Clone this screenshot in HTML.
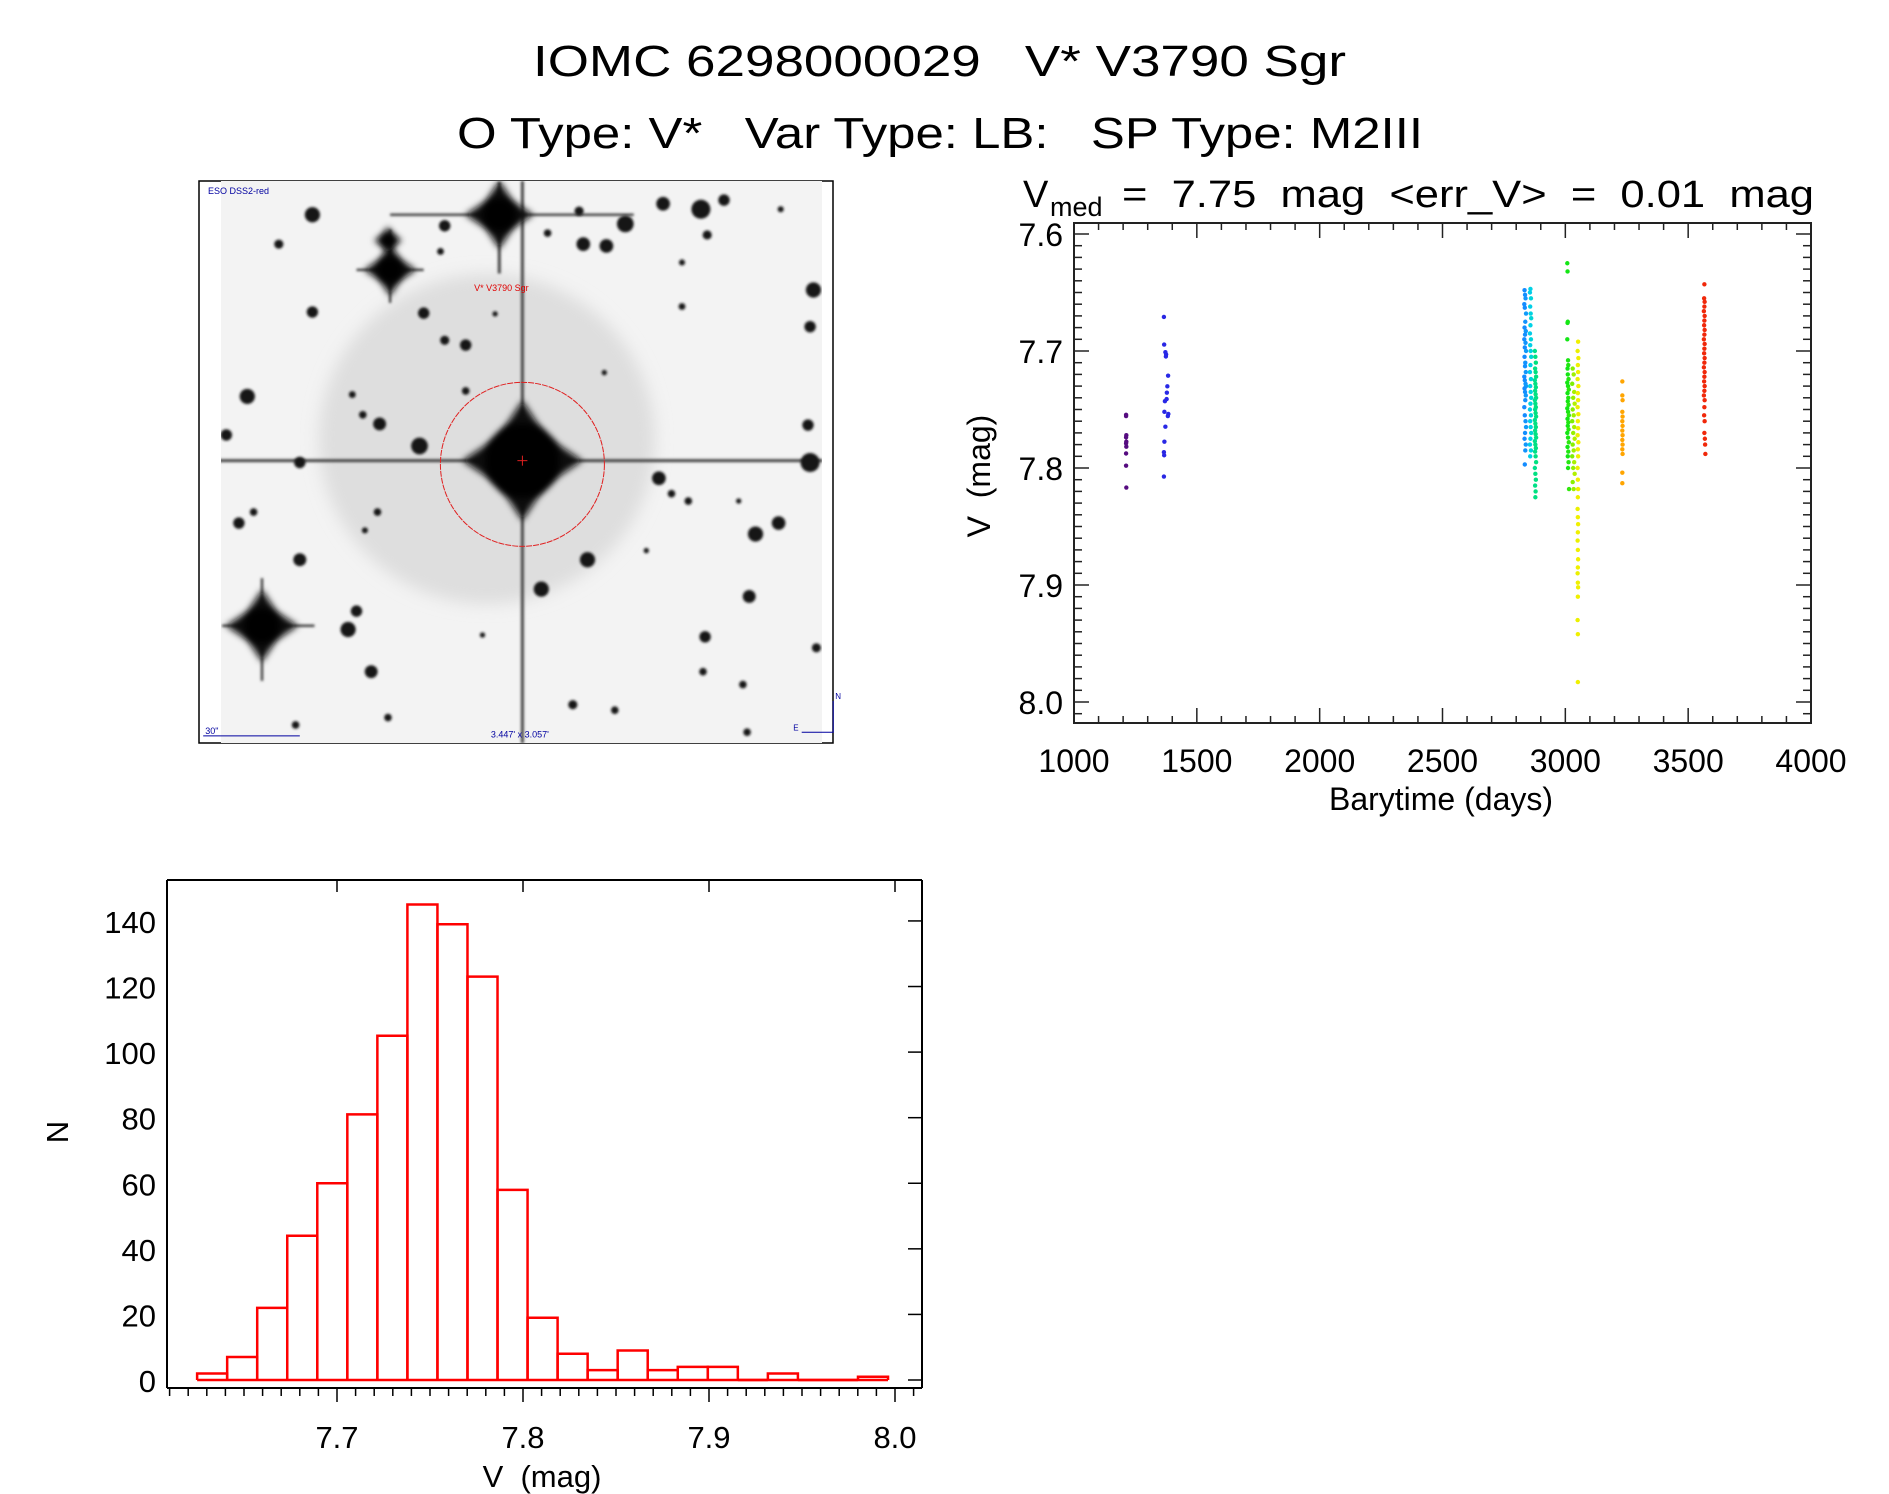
<!DOCTYPE html>
<html><head><meta charset="utf-8"><style>
html,body{margin:0;padding:0;background:#fff;}
svg{display:block;font-family:"Liberation Sans",sans-serif;}
text{white-space:pre;}
</style></head><body>
<svg id="root" width="1889" height="1494" viewBox="0 0 1889 1494" xmlns="http://www.w3.org/2000/svg" xml:space="preserve">
<defs>
<filter id="blur2" x="-50%" y="-50%" width="200%" height="200%"><feGaussianBlur stdDeviation="3.5"/></filter>
<filter id="blur6" x="-50%" y="-50%" width="200%" height="200%"><feGaussianBlur stdDeviation="8"/></filter>
<filter id="blur1" x="-50%" y="-50%" width="200%" height="200%"><feGaussianBlur stdDeviation="1.3"/></filter>
<filter id="blurLine" filterUnits="userSpaceOnUse" x="150" y="150" width="750" height="650"><feGaussianBlur stdDeviation="1.2"/></filter>
<clipPath id="imgclip"><rect x="221" y="181" width="601" height="562"/></clipPath>
</defs>
<text x="533" y="76" font-size="44" textLength="813" lengthAdjust="spacingAndGlyphs">IOMC 6298000029   V* V3790 Sgr</text>
<text x="457" y="148" font-size="44" textLength="966" lengthAdjust="spacingAndGlyphs">O Type: V*   Var Type: LB:   SP Type: M2III</text>

<g id="sky"></g>
<g id="scatter"></g>
<g id="hist"></g>
</svg>
<script>
// ---------------- light-curve data ----------------
const purpleT=[1212,1212,1213,1212,1213,1212,1213,1212,1212,1213];
const purpleM=[7.7545,7.7556,7.772,7.7738,7.7775,7.779,7.7818,7.7876,7.798,7.8167];
const blueT=[1366,1367,1372,1375,1374,1383,1380,1378,1377,1370,1368,1384,1382,1372,1368,1366,1367,1366];
const blueM=[7.6709,7.6945,7.701,7.7029,7.7047,7.7211,7.7302,7.7356,7.7411,7.7429,7.752,7.7538,7.7556,7.7647,7.7775,7.7865,7.7891,7.8073];
const grpAT=[2834,2836,2838,2833,2835,2840,2837,2834,2839,2836,2833,2838,2835,2840,2834,2837,2836,2839,2833,2835,2838,2840,2834,2836,2839,2837,2833,2835,2838,2840,2836,2834,2839,2837,2835];
const grpAM=[7.648,7.652,7.655,7.660,7.663,7.668,7.675,7.680,7.683,7.686,7.690,7.693,7.697,7.700,7.705,7.710,7.713,7.718,7.722,7.725,7.728,7.730,7.732,7.735,7.738,7.742,7.748,7.755,7.760,7.765,7.770,7.775,7.780,7.785,7.797];
const grpBT=[2858,2856,2860,2857,2859,2861,2858,2856,2860,2857,2859,2861,2858,2856,2860,2857,2859,2861,2858,2856,2860,2857,2859,2861,2858,2856,2860,2857];
const grpBM=[7.647,7.650,7.655,7.662,7.668,7.672,7.678,7.685,7.690,7.695,7.700,7.705,7.712,7.718,7.724,7.730,7.735,7.740,7.745,7.750,7.755,7.760,7.765,7.770,7.775,7.780,7.785,7.790];
const grpCT=[2876,2878,2880,2877,2879,2881,2876,2878,2880,2877,2879,2881,2876,2878,2880,2877,2879,2881,2876,2878,2880,2877,2879,2881,2876,2878,2880,2877,2879,2881,2876,2878,2880,2877,2879,2878];
const grpCM=[7.700,7.705,7.710,7.715,7.718,7.722,7.725,7.728,7.731,7.734,7.737,7.740,7.742,7.745,7.748,7.750,7.753,7.756,7.759,7.762,7.765,7.768,7.771,7.774,7.777,7.780,7.783,7.786,7.790,7.795,7.800,7.805,7.810,7.815,7.820,7.825];
const grpDT=[3008,3009,3010,3009,3008,3011,3012,3009,3010,3013,3008,3011,3014,3009,3012,3010,3013,3008,3011,3014,3009,3012,3010,3013,3008,3011,3014,3009,3012,3010,3013,3011,3015];
const grpDM=[7.625,7.632,7.675,7.676,7.690,7.708,7.712,7.715,7.720,7.724,7.727,7.730,7.733,7.736,7.740,7.743,7.746,7.749,7.752,7.755,7.758,7.761,7.764,7.767,7.770,7.774,7.778,7.782,7.786,7.790,7.795,7.800,7.818];
const grpET=[3030,3034,3028,3036,3032,3038,3030,3034,3028,3036,3032,3038,3030,3034,3028,3036,3032,3038,3030,3034];
const grpEM=[7.715,7.720,7.728,7.735,7.740,7.745,7.750,7.755,7.760,7.765,7.770,7.775,7.780,7.785,7.790,7.795,7.800,7.805,7.812,7.818];
const grpFT=[3052,3050,3053,3051,3052,3050,3053,3051,3052,3050,3053,3051,3052,3050,3053,3051,3052,3050,3051,3052,3051,3050,3051,3052,3051,3050,3051,3052,3051,3050,3051,3052,3051,3050,3051,3051];
const grpFM=[7.692,7.700,7.706,7.712,7.718,7.724,7.730,7.736,7.742,7.748,7.754,7.760,7.766,7.772,7.778,7.784,7.790,7.800,7.810,7.818,7.825,7.835,7.842,7.848,7.855,7.862,7.870,7.878,7.885,7.890,7.898,7.902,7.910,7.930,7.942,7.983];
const grpGT=[3232,3232,3233,3232,3233,3232,3233,3232,3233,3232,3233,3232,3233,3232,3232];
const grpGM=[7.726,7.738,7.742,7.752,7.756,7.760,7.764,7.768,7.772,7.776,7.780,7.784,7.788,7.804,7.813];
const grpHT=[3566,3565,3567,3566,3564,3567,3566,3565,3567,3566,3564,3567,3566,3565,3567,3566,3564,3567,3566,3565,3567,3566,3564,3567,3566,3565,3567,3566,3568,3569,3570];
const grpHM=[7.643,7.655,7.658,7.662,7.666,7.670,7.674,7.678,7.682,7.686,7.690,7.694,7.698,7.702,7.706,7.710,7.714,7.718,7.722,7.726,7.730,7.734,7.738,7.742,7.748,7.755,7.760,7.770,7.775,7.780,7.788];
const xTickLabels=["1000","1500","2000","2500","3000","3500","4000"];
const yTickLabels=["7.6","7.7","7.8","7.9","8.0"];

// ---------------- histogram data ----------------
const histBinStart=7.6248;
const histBinWidth=0.01615;
const histCounts=[2,7,22,44,60,81,105,145,139,123,58,19,8,3,9,3,4,4,0,2,0,0,1];
const histXTickLabels=["7.7","7.8","7.9","8.0"];
const histYTickLabels=["0","20","40","60","80","100","120","140"];

const NS="http://www.w3.org/2000/svg";
function mk(tag,attrs,parent){const e=document.createElementNS(NS,tag);for(const k in attrs)e.setAttribute(k,attrs[k]);parent.appendChild(e);return e;}

// ---------------- sky image ----------------
(function(){
const g=document.getElementById('sky');
const fx=zx=>199+(zx-15)*0.42, fy=zy=>181+(zy-18)*0.367;
let r=mk('rect',{x:199,y:181,width:634,height:562,fill:'#fff',stroke:'#000','stroke-width':1.5},g);


const c=mk('g',{'clip-path':'url(#imgclip)'},g);
mk('rect',{x:221,y:181,width:601,height:562,fill:'#f3f3f3'},c);
mk('ellipse',{cx:487,cy:439,rx:168,ry:165,fill:'#dedede',filter:'url(#blur6)'},c);
const sl=mk('g',{filter:'url(#blurLine)'},c);
const sp=[[0,780,1500,780,3],[785,18,785,1550,3],[470,110,1050,110,2.5],[730,20,730,270,3],[390,260,550,260,2.5],[470,150,470,350,2.5],[70,1230,290,1230,2.5],[165,1100,165,1380,2.5]];
sp.forEach(s=>mk('line',{x1:fx(s[0]),y1:fy(s[1]),x2:fx(s[2]),y2:fy(s[3]),stroke:'#444','stroke-width':s[4]},sl));
const big=[[785,780,150],[730,110,85],[470,260,65],[465,180,35],[165,1230,90]];
big.forEach((b,i)=>{const x=fx(b[0]),y=fy(b[1]),s=b[2]*0.4,q=s*0.4;
 mk('polygon',{points:`${x},${y-s} ${x+q},${y-q} ${x+s},${y} ${x+q},${y+q} ${x},${y+s} ${x-q},${y+q} ${x-s},${y} ${x-q},${y-q}`,fill:'#111',filter:'url(#blur2)'},c);
 mk('circle',{cx:x,cy:y,r:s*(i===0?0.62:0.5),fill:'#000',filter:'url(#blur2)'},c);});
const small=[[285,110,20],[205,190,12],[1120,80,18],[1210,95,25],[1265,70,15],[1030,135,22],[930,190,18],[985,195,18],[920,100,12],[600,140,15],[845,160,10],[1225,165,12],[1478,315,20],[1470,415,15],[130,605,20],[285,375,15],[550,378,15],[650,465,15],[600,452,12],[445,680,17],[405,655,10],[540,740,22],[1465,683,15],[1470,785,25],[255,785,15],[1110,828,18],[1140,870,10],[1180,890,10],[1340,980,20],[1395,950,18],[110,950,15],[145,920,10],[255,1050,17],[940,1050,20],[830,1130,20],[1325,1150,17],[390,1190,15],[370,1240,20],[1220,1260,15],[425,1355,17],[1485,1290,12],[905,1445,12],[1005,1460,10],[1215,1355,10],[465,1480,10],[1310,1390,10],[1320,1520,10],[650,590,10],[80,710,15],[440,920,10],[410,970,8],[245,1500,10],[1165,360,9],[1400,95,8],[1165,240,8],[590,210,9],[380,600,9],[720,380,7],[980,540,7],[1080,1025,7],[690,1255,7],[1300,890,7]];
small.forEach(s=>mk('circle',{cx:fx(s[0]),cy:fy(s[1]),r:s[2]*0.38,fill:'#151515',filter:'url(#blur1)'},c));
const rc=mk('circle',{cx:fx(785),cy:fy(790),r:82,fill:'none',stroke:'#e02020','stroke-width':1,'stroke-dasharray':'6 1'},g);


mk('line',{x1:fx(785)-5,y1:fy(780),x2:fx(785)+5,y2:fy(780),stroke:'#e02020','stroke-width':1},g);
mk('line',{x1:fx(785),y1:fy(780)-5,x2:fx(785),y2:fy(780)+5,stroke:'#e02020','stroke-width':1},g);
let t=mk('text',{x:fx(670),y:fy(318),'font-size':9,fill:'#e00000'},g);t.textContent='V* V3790 Sgr';


t=mk('text',{x:208,y:194,'font-size':9,fill:'#0000a0'},g);t.textContent='ESO DSS2-red';


t=mk('text',{x:fx(710),y:fy(1535),'font-size':9,fill:'#0000a0'},g);t.textContent="3.447' x 3.057'";


t=mk('text',{x:fx(30),y:fy(1525),'font-size':9,fill:'#0000a0'},g);t.textContent='30"';


mk('line',{x1:fx(25),y1:fy(1530),x2:fx(255),y2:fy(1530),stroke:'#0000a0','stroke-width':1},g);
mk('polyline',{points:`${fx(1450)},${fy(1520)} ${fx(1525)},${fy(1520)} ${fx(1525)},${fy(1435)}`,fill:'none',stroke:'#0000a0','stroke-width':1},g);
t=mk('text',{x:fx(1530),y:fy(1430),'font-size':8,fill:'#0000a0'},g);t.textContent='N';


t=mk('text',{x:fx(1430),y:fy(1515),'font-size':8,fill:'#0000a0'},g);t.textContent='E';


})();

// ---------------- light curve ----------------
(function(){
const g=document.getElementById('scatter');
const L=1074,R=1811,T=223,B=723;
const X=t=>L+(t-1000)*(R-L)/3000;
const Y=m=>234+(m-7.6)*1170;
const stops=[[1200,[90,10,120]],[1370,[40,40,230]],[2835,[20,140,255]],[2858,[0,210,230]],[2878,[0,225,130]],[3010,[20,230,20]],[3032,[150,240,0]],[3051,[240,240,0]],[3232,[255,165,0]],[3566,[240,40,10]]];
function col(t){if(t<=stops[0][0])return stops[0][1];for(let i=1;i<stops.length;i++){if(t<=stops[i][0]){const a=stops[i-1],b=stops[i],f=(t-a[0])/(b[0]-a[0]);return a[1].map((v,k)=>Math.round(v+(b[1][k]-v)*f));}}return stops[stops.length-1][1];}
const groups=[[purpleT,purpleM],[blueT,blueM],[grpAT,grpAM],[grpBT,grpBM],[grpCT,grpCM],[grpDT,grpDM],[grpET,grpEM],[grpFT,grpFM],[grpGT,grpGM],[grpHT,grpHM]];
groups.forEach(gr=>gr[0].forEach((t,i)=>{const c=col(t);
 const p=mk('circle',{cx:X(t),cy:Y(gr[1][i]),r:2.2,fill:`rgb(${c[0]},${c[1]},${c[2]})`},g);
 
 }));
const ax=mk('rect',{x:L,y:T,width:R-L,height:B-T,fill:'none',stroke:'#222','stroke-width':2},g);


for(let t=1000;t<=4000;t+=100){const maj=t%500===0,len=maj?15:7;
 mk('line',{x1:X(t),y1:B,x2:X(t),y2:B-len,stroke:'#222','stroke-width':1.5},g);
 mk('line',{x1:X(t),y1:T,x2:X(t),y2:T+len,stroke:'#222','stroke-width':1.5},g);}
for(let k=0;k<=41;k++){const m=7.6+k*0.01;const y=Y(m);if(y<T||y>B)continue;const maj=k%10===0,len=maj?15:8;
 mk('line',{x1:L,y1:y,x2:L+len,y2:y,stroke:'#222','stroke-width':1.5},g);
 mk('line',{x1:R,y1:y,x2:R-len,y2:y,stroke:'#222','stroke-width':1.5},g);}
xTickLabels.forEach(s=>{const t=mk('text',{x:X(+s),y:772,'font-size':32,'text-anchor':'middle'},g);t.textContent=s;
 
 });
yTickLabels.forEach(s=>{const t=mk('text',{x:1063,y:Y(+s)+12,'font-size':32,'text-anchor':'end'},g);t.textContent=s;
 
 });
let t=mk('text',{x:1441,y:810,'font-size':32,'text-anchor':'middle'},g);t.textContent='Barytime (days)';


t=mk('text',{x:0,y:0,'font-size':32,'text-anchor':'middle',transform:'translate(990,476) rotate(-90)'},g);t.textContent='V  (mag)';


t=mk('text',{x:1023,y:207,'font-size':38},g);t.textContent='V';


t=mk('text',{x:1050,y:216,'font-size':27},g);t.textContent='med';


t=mk('text',{x:1122,y:207,'font-size':38,textLength:692,lengthAdjust:'spacingAndGlyphs'},g);t.textContent='=  7.75  mag  <err_V>  =  0.01  mag';


})();

// ---------------- histogram ----------------
(function(){
const g=document.getElementById('hist');
const L=167,R=922,T=880,B=1388;
const X=v=>337+(v-7.7)*1860;
const Y=n=>1380-n*3.279;
histCounts.forEach((n,i)=>{const x0=X(histBinStart+i*histBinWidth),x1=X(histBinStart+(i+1)*histBinWidth);
 const b=mk('polyline',{points:`${x0},${Y(0)} ${x0},${Y(n)} ${x1},${Y(n)} ${x1},${Y(0)}`,fill:'none',stroke:'#ff0000','stroke-width':2.5},g);
 
 });
mk('line',{x1:X(histBinStart),y1:Y(0),x2:X(histBinStart+histCounts.length*histBinWidth),y2:Y(0),stroke:'#ff0000','stroke-width':2.5},g);
mk('line',{x1:L,y1:T,x2:R,y2:T,stroke:'#000','stroke-width':2},g);
mk('line',{x1:L,y1:T,x2:L,y2:B,stroke:'#000','stroke-width':2},g);
mk('line',{x1:R,y1:T,x2:R,y2:B,stroke:'#000','stroke-width':2},g);
mk('line',{x1:L,y1:B,x2:R,y2:B,stroke:'#000','stroke-width':2},g);
for(let k=-9;k<=31;k++){const v=7.7+k*0.01;const x=X(v);if(x<L||x>R)continue;const maj=k%10===0,len=maj?14:8;
 mk('line',{x1:x,y1:B,x2:x,y2:B+len,stroke:'#000','stroke-width':1.5},g);
 if(maj)mk('line',{x1:x,y1:T,x2:x,y2:T+12,stroke:'#000','stroke-width':1.5},g);}
histYTickLabels.forEach(s=>{const y=Y(+s);mk('line',{x1:R,y1:y,x2:R-14,y2:y,stroke:'#000','stroke-width':1.5},g);
 const t=mk('text',{x:156,y:y+12,'font-size':31,'text-anchor':'end'},g);t.textContent=s;
 
 });
histXTickLabels.forEach(s=>{const t=mk('text',{x:X(+s),y:1448,'font-size':31,'text-anchor':'middle'},g);t.textContent=s;
 
 });
let t=mk('text',{x:542,y:1487,'font-size':31,'text-anchor':'middle'},g);t.textContent='V  (mag)';


t=mk('text',{x:0,y:0,'font-size':31,'text-anchor':'middle',transform:'translate(68,1132) rotate(-90)'},g);t.textContent='N';


})();
</script>
</body></html>
